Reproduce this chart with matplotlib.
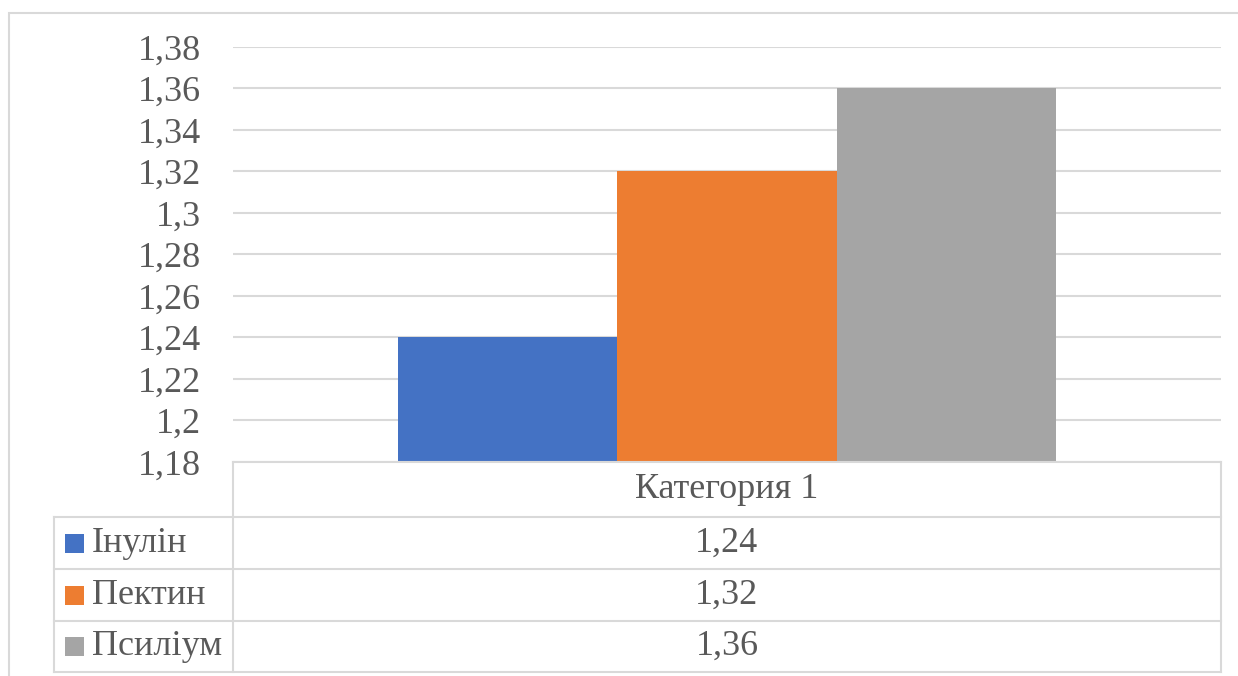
import os
import matplotlib
matplotlib.use("Agg")
import matplotlib.pyplot as plt
from matplotlib.patches import Rectangle
from matplotlib.lines import Line2D
from matplotlib.font_manager import FontProperties

# Data
category = "Категория 1"
series_names = ["Інулін", "Пектин", "Псиліум"]
series_values = [1.24, 1.32, 1.36]
series_colors = ["#4472C4", "#ED7D31", "#A5A5A5"]
y_ticks = [1.18, 1.20, 1.22, 1.24, 1.26, 1.28, 1.30, 1.32, 1.34, 1.36, 1.38]

FS = 26
SERIF_FILE = "/usr/share/fonts/truetype/liberation/LiberationSerif-Regular.ttf"
if os.path.exists(SERIF_FILE):
    FP = FontProperties(fname=SERIF_FILE, size=FS)
else:
    FP = FontProperties(family="Liberation Serif", size=FS)

W, H = 1238, 676
fig = plt.figure(figsize=(W / 100, H / 100), dpi=100)
fig.patch.set_facecolor("white")

GRID = "#D9D9D9"
TEXT = "#595959"


def fx(px):
    return px / W


def fy(py):
    return 1 - py / H


# Plot area in pixel coordinates
left, right, top, bottom = 233, 1221, 47, 462
ax = fig.add_axes([fx(left), fy(bottom), fx(right) - fx(left), fy(top) - fy(bottom)])

n = len(series_values)
gap = 1.5  # gap width relative to one bar
bar_w = 1.0 / (n + gap)
start = -0.5 + gap * bar_w / 2
for i, (v, c) in enumerate(zip(series_values, series_colors)):
    x0 = start + i * bar_w
    ax.bar(x0, v - y_ticks[0], width=bar_w, bottom=y_ticks[0], align="edge",
           color=c, zorder=3)

ax.set_xlim(-0.5, 0.5)
ax.set_ylim(y_ticks[0], y_ticks[-1])
ax.set_yticks(y_ticks)
ax.set_yticklabels([f"{t:.2f}".rstrip("0").rstrip(".").replace(".", ",") for t in y_ticks],
                   fontproperties=FP, color=TEXT)
ax.tick_params(axis="y", length=0, pad=23)
ax.set_xticks([])
ax.yaxis.grid(True, color=GRID, linewidth=1.5, zorder=0)
for s in ax.spines.values():
    s.set_visible(False)

# Outer chart border
fig.add_artist(Rectangle((fx(8.5), fy(700)), fx(1260) - fx(8.5), fy(13) - fy(700),
                         transform=fig.transFigure, fill=False, edgecolor=GRID,
                         linewidth=1.5))

# Data table
row_edges = [462, 517, 569, 621, 672]
legend_left = 54


def hline(x0, x1, y):
    fig.add_artist(Line2D([fx(x0), fx(x1)], [fy(y), fy(y)], transform=fig.transFigure,
                          color=GRID, linewidth=1.5))


def vline(x, y0, y1):
    fig.add_artist(Line2D([fx(x), fx(x)], [fy(y0), fy(y1)], transform=fig.transFigure,
                          color=GRID, linewidth=1.5))


hline(left, right, row_edges[0])
for y in row_edges[1:]:
    hline(legend_left, right, y)
vline(left, row_edges[0], row_edges[-1])
vline(right, row_edges[0], row_edges[-1])
vline(legend_left, row_edges[1], row_edges[-1])

cx = (left + right) / 2
fig.text(fx(cx), fy((row_edges[0] + row_edges[1]) / 2), category,
         ha="center", va="center", fontproperties=FP, color=TEXT)

for i, (name, v, c) in enumerate(zip(series_names, series_values, series_colors)):
    y0, y1 = row_edges[i + 1], row_edges[i + 2]
    yc = (y0 + y1) / 2
    fig.add_artist(Rectangle((fx(65), fy(yc + 9.5)), fx(19), 19 / H,
                             transform=fig.transFigure, facecolor=c, edgecolor="none"))
    fig.text(fx(92), fy(yc), name, ha="left", va="center", fontproperties=FP, color=TEXT)
    fig.text(fx(cx), fy(yc), f"{v:.2f}".replace(".", ","), ha="center", va="center",
             fontproperties=FP, color=TEXT)

fig.savefig("out.png", dpi=100)
